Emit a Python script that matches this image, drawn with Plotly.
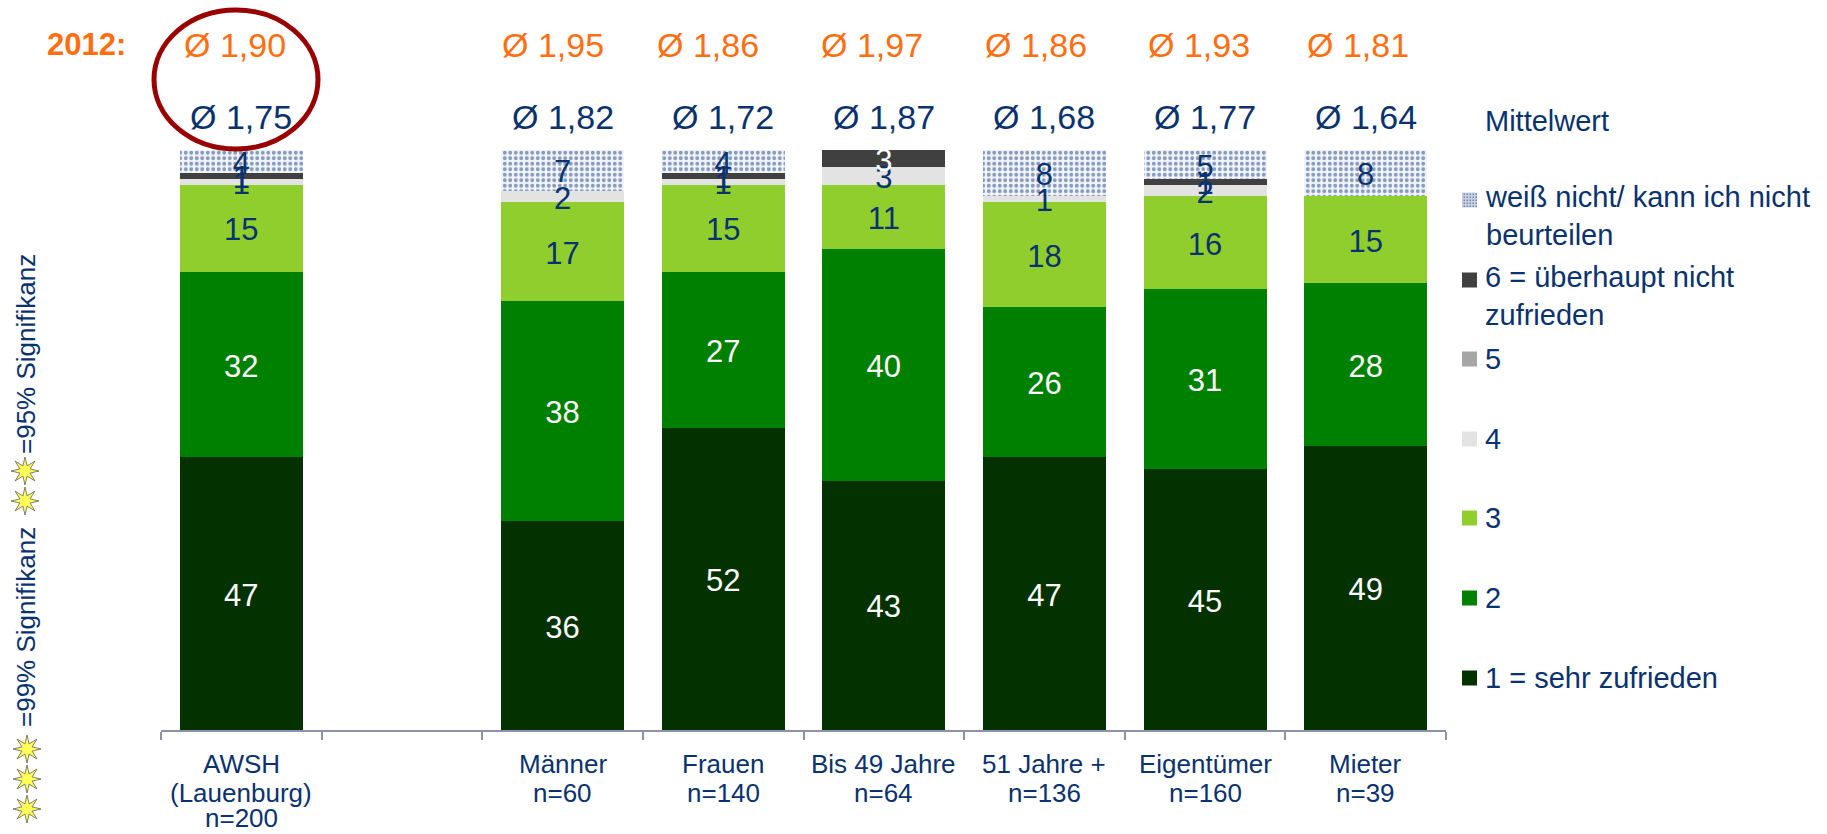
import plotly.graph_objects as go
import math

categories = ["AWSH<br>(Lauenburg)<br>n=200", " ", "Männer<br>n=60", "Frauen<br>n=140", "Bis 49 Jahre<br>n=64",
              "51 Jahre +<br>n=136", "Eigentümer<br>n=160", "Mieter<br>n=39"]
s1 = [47, 0, 36, 52, 43, 47, 45, 49]
s2 = [32, 0, 38, 27, 40, 26, 31, 28]
s3 = [15, 0, 17, 15, 11, 18, 16, 15]
s4 = [1, 0, 2, 1, 3, 1, 2, 0]
s5 = [0, 0, 0, 0, 0, 0, 0, 0]
s6 = [1, 0, 0, 1, 3, 0, 1, 0]
s_wn = [4, 0, 7, 4, 0, 8, 5, 8]
mean_now = [1.75, None, 1.82, 1.72, 1.87, 1.68, 1.77, 1.64]
mean_2012 = [1.90, None, 1.95, 1.86, 1.97, 1.86, 1.93, 1.81]
shift_2012 = [-6, 0, -10, -15, -12, -8, -6, -8]

NAVY = "#0A326E"
ORANGE = "#FF6E0F"
FONT = "Liberation Sans, Arial, sans-serif"
L, R, T, B = 161, 1446, 150, 730
LABEL_DROP = 0.75  # value labels sit a little under the segment middle


def px(x):
    return (x - L) / (R - L)


def py(y):
    return (B - y) / (B - T)


def labels(vals):
    return [str(v) if v else "" for v in vals]


series = [
    ("1 = sehr zufrieden", s1, "#033100", "white"),
    ("2", s2, "#008000", "white"),
    ("3", s3, "#8FCE2D", NAVY),
    ("4", s4, "#E3E3E3", NAVY),
    ("5", s5, "#A6A6A6", NAVY),
    ("6 = überhaupt nicht<br>zufrieden", s6, "#404040", "white"),
    ("weiß nicht/ kann ich nicht<br>beurteilen", s_wn, "#FFFFFF", NAVY),
]

fig = go.Figure()
for name, vals, col, tc in series:
    marker = dict(color=col, line=dict(width=0))
    if name.startswith("weiß"):
        marker["pattern"] = dict(shape=".", fgcolor="#173F7D", bgcolor="#F2F4F9", size=5.5, solidity=0.4)
    fig.add_trace(go.Bar(x=categories, y=vals, name=name.replace("<br>", " "), marker=marker, showlegend=False))

# value labels sit above every bar segment, at each segment's middle
base = [0] * len(categories)
for name, vals, col, tc in series:
    mids = [b + v / 2 - LABEL_DROP for b, v in zip(base, vals)]
    base = [b + v for b, v in zip(base, vals)]
    tcs = tc
    if name.startswith("6"):
        tcs = ["white" if v >= 3 else NAVY for v in vals]
    fig.add_trace(go.Scatter(
        x=categories, y=mids, mode="text", text=labels(vals), textposition="middle center",
        textfont=dict(color=tcs, size=31, family=FONT), showlegend=False, hoverinfo="skip", cliponaxis=False,
    ))

annotations = []
shapes = []


def note(text, x, y, size, color=NAVY, bold=False, xanchor="center", angle=0, align="center"):
    annotations.append(dict(
        text=f"<b>{text}</b>" if bold else text, x=px(x), y=py(y), xref="paper", yref="paper",
        xanchor=xanchor, yanchor="middle", showarrow=False, align=align, textangle=angle,
        font=dict(size=size, color=color, family=FONT),
    ))


# mean rows, placed on the category axis
for cat, v, v12, sh in zip(categories, mean_now, mean_2012, shift_2012):
    if v is None:
        continue
    for val, ypix, col, xs in ((v, 117, NAVY, 0), (v12, 45, ORANGE, sh)):
        annotations.append(dict(
            text="Ø " + f"{val:.2f}".replace(".", ","), x=cat, xref="x", y=py(ypix), yref="paper",
            xshift=xs, yanchor="middle", showarrow=False,
            font=dict(size=34, color=col, family=FONT),
        ))

# category labels, one row per line so that the row pitch matches
for cat in categories:
    for text, ypix in zip(cat.split("<br>"), (764, 793, 818)):
        if text.strip():
            annotations.append(dict(
                text=text, x=cat, xref="x", y=py(ypix), yref="paper", yanchor="middle", showarrow=False,
                font=dict(size=26, color=NAVY, family=FONT),
            ))

note("2012:", 86, 45, 31, ORANGE, bold=True)
note("Mittelwert", 1483, 121, 29, xanchor="left")

# ring round the first column
shapes.append(dict(type="circle", xref="paper", yref="paper", x0=px(154), x1=px(318), y0=py(10), y1=py(149),
                   line=dict(color="#990000", width=5), layer="above"))

# legend
legend_rows = [
    (series[6][0], 200, 216, "#C9D2E2"),
    (series[5][0], 280, 296, series[5][2]),
    (series[4][0], 359, 359, series[4][2]),
    (series[3][0], 439, 439, series[3][2]),
    (series[2][0], 518, 518, series[2][2]),
    (series[1][0], 598, 598, series[1][2]),
    (series[0][0], 678, 678, series[0][2]),
]
for name, sw_y, txt_y, col in legend_rows:
    shapes.append(dict(type="rect", xref="paper", yref="paper", x0=px(1462), x1=px(1477),
                       y0=py(sw_y + 7.5), y1=py(sw_y - 7.5), fillcolor=col, line=dict(width=0)))
    note(name, 1483, txt_y, 29, xanchor="left", align="left")

# pattern dots of the first legend swatch
dots = ""
for i in range(5):
    for j in range(5):
        xx, yy = 1463.5 + i * 3, 193.5 + j * 3
        dots += f"M{px(xx)},{py(yy)}L{px(xx + 1.5)},{py(yy)}L{px(xx + 1.5)},{py(yy + 1.5)}L{px(xx)},{py(yy + 1.5)}Z"
shapes.append(dict(type="path", xref="paper", yref="paper", path=dots, fillcolor="#6F86AD", line=dict(width=0)))

# significance note
note("=99% Signifikanz", 26, 627, 26, angle=-90)
note("=95% Signifikanz", 26, 354, 26, angle=-90)


def star(cx, cy, r1=14, r2=5.5, n=8):
    p = []
    for k in range(2 * n):
        r = r1 if k % 2 == 0 else r2
        a = math.pi * k / n
        p.append(f"{px(cx + r * math.cos(a))},{py(cy + r * math.sin(a))}")
    return "M" + "L".join(p) + "Z"


for cx, cy in ((27, 749), (27, 779), (27, 809), (25, 501), (25, 471)):
    shapes.append(dict(type="path", xref="paper", yref="paper", path=star(cx, cy),
                       fillcolor="#FFFF55", line=dict(color="#555555", width=0.75)))

fig.update_layout(
    barmode="stack", bargap=0.234, width=1827, height=834,
    margin=dict(l=L, r=1827 - R, t=T, b=834 - B, pad=0),
    plot_bgcolor="white", paper_bgcolor="white",
    font=dict(family=FONT, color=NAVY),
    annotations=annotations, shapes=shapes,
    xaxis=dict(type="category", categoryorder="array", categoryarray=categories, tickangle=0,
               range=[-0.5, 7.5], tickson="boundaries", ticks="outside", ticklen=8, tickwidth=2,
               tickcolor="#8C92A8", showline=True, linecolor="#8C92A8", linewidth=2, showgrid=False,
               automargin=False, showticklabels=False),
    yaxis=dict(range=[0, 100], visible=False, automargin=False),
)
fig.write_html("out.html", config=dict(displayModeBar=False), post_script="document.body.style.margin='0';")
